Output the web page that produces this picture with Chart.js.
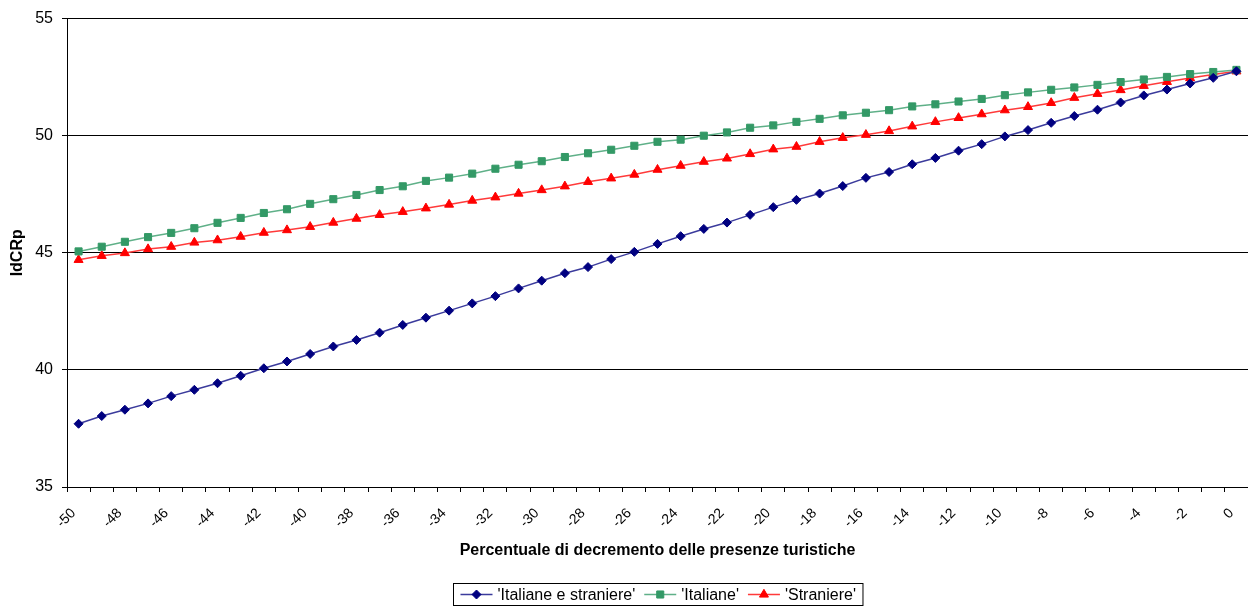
<!DOCTYPE html>
<html>
<head>
<meta charset="utf-8">
<script src="https://cdn.jsdelivr.net/npm/chart.js@4/dist/chart.umd.min.js"></script>
<style>
html,body{margin:0;padding:0;background:#fff;}
canvas{display:block;}
</style>
</head>
<body>
<canvas id="c" width="1248" height="606"></canvas>
<script>
const categories = ['-50','-49','-48','-47','-46','-45','-44','-43','-42','-41','-40','-39','-38','-37','-36','-35','-34','-33','-32','-31','-30','-29','-28','-27','-26','-25','-24','-23','-22','-21','-20','-19','-18','-17','-16','-15','-14','-13','-12','-11','-10','-9','-8','-7','-6','-5','-4','-3','-2','-1','0'];
const tickLabels = ['-50','-48','-46','-44','-42','-40','-38','-36','-34','-32','-30','-28','-26','-24','-22','-20','-18','-16','-14','-12','-10','-8','-6','-4','-2','0'];
const seriesNames = ["'Italiane e straniere'", "'Italiane'", "'Straniere'"];
const italianeStraniere = [37.70,38.03,38.30,38.57,38.88,39.15,39.43,39.75,40.07,40.36,40.68,41.00,41.28,41.59,41.92,42.23,42.53,
  42.84,43.15,43.48,43.81,44.13,44.39,44.73,45.04,45.38,45.71,46.02,46.29,46.62,46.95,47.26,47.53,47.85,
  48.20,48.45,48.78,49.05,49.36,49.64,49.97,50.24,50.55,50.84,51.11,51.42,51.72,51.97,52.23,52.47,52.75];
const italiane = [45.06,45.26,45.47,45.67,45.85,46.05,46.28,46.49,46.70,46.86,47.09,47.29,47.47,47.68,
  47.84,48.07,48.21,48.38,48.59,48.76,48.91,49.09,49.25,49.40,49.57,49.74,49.83,50.00,50.14,50.34,
  50.44,50.59,50.72,50.87,50.98,51.09,51.25,51.34,51.46,51.57,51.73,51.85,51.96,52.06,52.17,52.29,52.40,52.51,52.63,52.72,52.81];
const straniere = [44.70,44.87,44.99,45.16,45.26,45.44,45.54,45.69,45.86,45.97,46.11,46.29,46.46,46.62,
  46.75,46.90,47.06,47.23,47.37,47.53,47.68,47.84,48.03,48.18,48.34,48.55,48.72,48.89,49.03,49.22,
  49.42,49.53,49.74,49.91,50.04,50.20,50.40,50.59,50.76,50.92,51.09,51.23,51.40,51.62,51.79,51.95,52.13,52.30,52.46,52.61,52.75];
const yTicks = [35, 40, 45, 50, 55];

const FONT = "'Liberation Sans', Arial, sans-serif";
Chart.defaults.font.family = FONT;
Chart.defaults.color = '#000';

function mkSet(label, data, line, fill, style, r) {
  return {
    label, data,
    borderColor: line, backgroundColor: fill,
    pointBackgroundColor: fill, pointBorderColor: fill,
    pointStyle: style, pointRadius: r, pointBorderWidth: 1,
    borderWidth: 1.5, tension: 0, fill: false, clip: false
  };
}

const legendPlugin = {
  id: 'boxLegend',
  afterDraw(chart) {
    const c = chart.ctx;
    c.save();
    c.font = '16px ' + FONT;
    const items = chart.data.datasets.map(ds => ({ds, w: c.measureText(ds.label).width}));
    const padL = 7, lineLen = 32, gapLT = 5, gapItems = 9;
    let total = padL * 2;
    items.forEach((it, i) => { total += lineLen + gapLT + it.w + (i ? gapItems : 0); });
    const cx = (chart.chartArea.left + chart.chartArea.right) / 2;
    const bx = Math.round(cx - total / 2) + 0.5;
    const by = 583.5, bh = 22;
    c.strokeStyle = '#000';
    c.lineWidth = 1;
    c.strokeRect(bx, by, total, bh);
    const yMid = by + bh / 2;
    let x = bx + padL;
    items.forEach((it, i) => {
      if (i) x += gapItems;
      const ds = it.ds;
      c.strokeStyle = ds.borderColor;
      c.lineWidth = 1.5;
      c.beginPath(); c.moveTo(x, yMid); c.lineTo(x + lineLen, yMid); c.stroke();
      c.fillStyle = ds.backgroundColor;
      c.strokeStyle = ds.backgroundColor;
      c.lineWidth = 1;
      Chart.helpers.drawPoint(c, {pointStyle: ds.pointStyle, radius: ds.pointRadius, rotation: 0, borderWidth: 1}, x + lineLen / 2, yMid);
      x += lineLen + gapLT;
      c.fillStyle = '#000';
      c.textBaseline = 'middle';
      c.textAlign = 'left';
      c.fillText(ds.label, x, yMid + 1);
      x += it.w;
    });
    c.restore();
  }
};

new Chart(document.getElementById('c'), {
  type: 'line',
  data: {
    labels: categories,
    datasets: [
      mkSet(seriesNames[0], italianeStraniere, '#3b3b9c', '#000080', 'rectRot', 4.5),
      mkSet(seriesNames[1], italiane, '#5fb088', '#339966', 'rect', 5),
      mkSet(seriesNames[2], straniere, '#ff3a3a', '#ff0000', 'triangle', 5.2)
    ]
  },
  options: {
    responsive: false,
    animation: false,
    devicePixelRatio: 1,
    layout: {autoPadding: false, padding: {left: 0, right: 0, top: 17, bottom: 46}},
    plugins: {legend: {display: false}, tooltip: {enabled: false}},
    scales: {
      x: {
        type: 'category',
        offset: true,
        grid: {offset: true, drawOnChartArea: false, drawTicks: true, tickLength: 5, color: '#000'},
        border: {color: '#000', width: 1},
        ticks: {
          autoSkip: false, minRotation: 45, maxRotation: 45, padding: 13, labelOffset: -5,
          font: {size: 14}, color: '#000',
          callback(v, i) { const l = categories[i]; return tickLabels.includes(l) ? l : ''; }
        },
        title: {display: true, text: 'Percentuale di decremento delle presenze turistiche',
          font: {size: 16, weight: 'bold'}, color: '#000', padding: {top: 0, bottom: 0}},
        afterFit(s) { s.height = 73; s.paddingLeft = 0; s.paddingRight = 0; }
      },
      y: {
        min: yTicks[0], max: yTicks[yTicks.length - 1],
        afterBuildTicks(s) { s.ticks = yTicks.map(v => ({value: v})); },
        ticks: {font: {size: 16}, color: '#000', padding: 9},
        grid: {color: '#000', tickLength: 5, lineWidth: 1},
        border: {color: '#000', width: 1},
        title: {display: true, text: 'IdCRp', font: {size: 16, weight: 'bold'}, color: '#000', padding: {top: 8, bottom: 0}},
        afterFit(s) { s.width = 67; }
      }
    }
  },
  plugins: [legendPlugin]
});
</script>
</body>
</html>
